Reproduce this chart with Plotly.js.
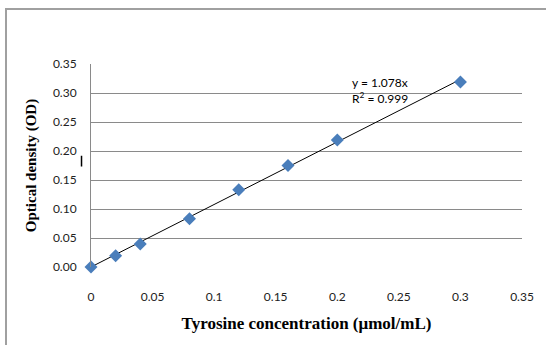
<!DOCTYPE html>
<html>
<head>
<meta charset="utf-8">
<script src="https://cdn.plot.ly/plotly-3.0.1.min.js"></script>
<style>
  html, body { margin: 0; padding: 0; background: #fff; overflow: hidden; }
  #wrap { position: relative; width: 546px; height: 345px; }
  #frame { position: absolute; left: 5px; top: 8px; width: 700px; height: 500px; border: 2px solid #a0a0a0; box-sizing: border-box; pointer-events: none; z-index: 5; }
  #chart { position: absolute; left: 0; top: 0; width: 546px; height: 345px; }
</style>
</head>
<body>
<div id="wrap">
  <div id="chart"></div>
  <div id="frame"></div>
</div>
<script>
const concentration = [0, 0.02, 0.04, 0.08, 0.12, 0.16, 0.2, 0.3];
const opticalDensity = [0, 0.0195, 0.0397, 0.083, 0.133, 0.175, 0.219, 0.319];
const slope = 1.078;
const trendX = [0, 0.3];
const trendY = trendX.map(v => slope * v);
const xTicks = [0, 0.05, 0.1, 0.15, 0.2, 0.25, 0.3, 0.35];
const xTickText = ['0', '0.05', '0.1', '0.15', '0.2', '0.25', '0.3', '0.35'];
const yTicks = [0, 0.05, 0.1, 0.15, 0.2, 0.25, 0.3, 0.35];
const yTickText = ['0.00', '0.05', '0.10', '0.15', '0.20', '0.25', '0.30', '0.35'];
const equationText = 'y = 1.078x<br>R<sup>2</sup> = 0.999';

const tickFont = { family: 'Lato, "Open Sans", sans-serif', size: 12, color: '#222' };
const yTitleFont = { family: '"Liberation Serif", "Times New Roman", serif', size: 15, color: '#000', weight: 'bold' };
const xTitleFont = { family: '"Liberation Serif", "Times New Roman", serif', size: 17, color: '#000', weight: 'bold' };

const traces = [
  {
    x: trendX, y: trendY, mode: 'lines', type: 'scatter',
    line: { color: '#000', width: 1 }, hoverinfo: 'skip', showlegend: false,
    cliponaxis: false
  },
  {
    x: concentration, y: opticalDensity, mode: 'markers', type: 'scatter',
    marker: { symbol: 'diamond', size: 10, color: '#4a7ebb' }, showlegend: false,
    cliponaxis: false
  }
];

const layout = {
  width: 546, height: 345,
  margin: { l: 91, r: 24, t: 64, b: 78 },
  paper_bgcolor: '#fff', plot_bgcolor: '#fff',
  showlegend: false,
  xaxis: {
    range: [0, 0.35], tickvals: xTicks, ticktext: xTickText,
    showgrid: false, zeroline: false, showline: false,
    ticks: 'outside', ticklen: 19, tickcolor: 'rgba(0,0,0,0)',
    tickfont: tickFont,
    title: { text: 'Tyrosine concentration (μmol/mL)', font: xTitleFont, standoff: 13 }
  },
  yaxis: {
    range: [0, 0.35], tickvals: yTicks, ticktext: yTickText,
    showgrid: true, gridcolor: '#8a8a8a', gridwidth: 1,
    zeroline: false, showline: true, linecolor: '#8a8a8a', linewidth: 1,
    ticks: 'outside', ticklen: 11, tickcolor: 'rgba(0,0,0,0)',
    tickfont: tickFont,
    title: { text: 'Optical density (OD)', font: yTitleFont, standoff: 12 }
  },
  annotations: [
    {
      xref: 'paper', yref: 'paper', x: 0.602, y: 0.87,
      xanchor: 'left', yanchor: 'middle', align: 'left',
      text: equationText, showarrow: false,
      font: { family: 'Lato, "Open Sans", sans-serif', size: 12, color: '#000' }
    }
  ],
  shapes: [
    {
      type: 'line', xref: 'paper', yref: 'paper',
      x0: -0.022, x1: -0.022, y0: 0.548, y1: 0.495,
      line: { color: '#000', width: 1.5 }
    }
  ]
};

Plotly.newPlot('chart', traces, layout, { displayModeBar: false, staticPlot: true });
</script>
</body>
</html>
